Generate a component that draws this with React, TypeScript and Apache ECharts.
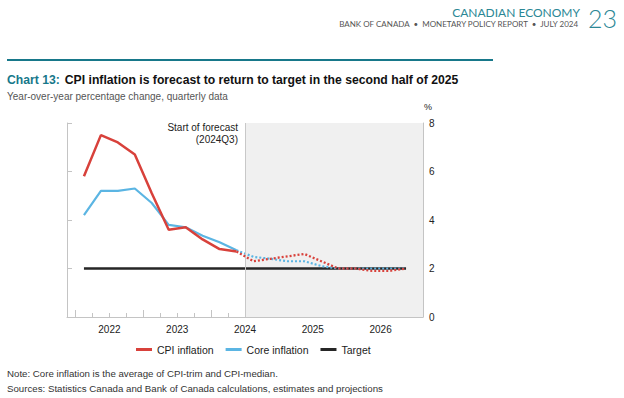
import React, { useEffect, useRef } from "react";
import * as echarts from "echarts";

// ---------- data ----------
const quarters = [
  "2022Q1", "2022Q2", "2022Q3", "2022Q4",
  "2023Q1", "2023Q2", "2023Q3", "2023Q4",
  "2024Q1", "2024Q2", "2024Q3", "2024Q4",
  "2025Q1", "2025Q2", "2025Q3", "2025Q4",
  "2026Q1", "2026Q2", "2026Q3", "2026Q4",
];
const actualQuarters = quarters.slice(0, 10); // 2022Q1 - 2024Q2
const forecastQuarters = quarters.slice(9); // 2024Q2 - 2026Q4 (joined at last actual)

const cpiActual = [5.8, 7.5, 7.2, 6.7, 5.1, 3.6, 3.7, 3.2, 2.8, 2.7];
const cpiForecast = [2.7, 2.3, 2.4, 2.5, 2.6, 2.3, 2.0, 2.0, 1.9, 1.9, 2.0];
const coreActual = [4.2, 5.2, 5.2, 5.3, 4.7, 3.8, 3.7, 3.35, 3.08, 2.75];
const coreForecast = [2.75, 2.48, 2.4, 2.3, 2.3, 2.1, 2.0, 2.0, 2.0, 2.0, 2.0];
const targetValues = [2, 2, 2, 2, 2, 2, 2, 2, 2, 2, 2, 2, 2, 2, 2, 2, 2, 2, 2, 2];

const yearLabels = [2022, 2023, 2024, 2025, 2026];
const yTicks = [0, 2, 4, 6, 8];
const forecastStart = "2024Q3";

// ---------- helpers ----------
const qStart = (q: string) => {
  const y = Number(q.slice(0, 4));
  const n = Number(q.slice(5));
  return y + (n - 1) / 4;
};
const qMid = (q: string) => qStart(q) + 0.125;
const pairs = (qs: string[], vs: number[]) => qs.map((q, i) => [qMid(q), vs[i]]);

const X_MIN = 2021.875;
const X_MAX = 2027.125;
const yearBoundaries = [...yearLabels, yearLabels[yearLabels.length - 1] + 1];
const quarterBoundaries: number[] = [];
yearLabels.forEach((y) => {
  [0.25, 0.5, 0.75].forEach((f) => quarterBoundaries.push(y + f));
});

const RED = "#d8413b";
const BLUE = "#5bb5e3";
const BLACK = "#262626";
const TEAL = "#17788a";
const AXIS = "#c4c4c4";
const FONT = "'Liberation Sans', Arial, sans-serif";

export default function App() {
  const ref = useRef<HTMLDivElement>(null);

  useEffect(() => {
    document.body.style.margin = "0";
    if (!ref.current) return;
    const chart = echarts.init(ref.current, undefined, { renderer: "svg" });

    const baseX = {
      type: "value",
      gridIndex: 0,
      position: "bottom",
      min: X_MIN,
      max: X_MAX,
      splitLine: { show: false },
    };

    const option: any = {
      animation: false,
      backgroundColor: "#ffffff",
      textStyle: { fontFamily: FONT },
      title: {
        left: 7,
        top: 71,
        padding: 0,
        text: "{a|Chart 13:} {b|CPI inflation is forecast to return to target in the second half of 2025}",
        subtext: "Year-over-year percentage change, quarterly data",
        itemGap: 2,
        textStyle: {
          rich: {
            a: { fontSize: 12.2, fontWeight: "bold", color: TEAL, fontFamily: FONT },
            b: { fontSize: 12.2, fontWeight: "bold", color: "#111111", fontFamily: FONT },
          },
        },
        subtextStyle: { fontSize: 10, color: "#555555", fontFamily: FONT },
      },
      grid: { left: 67, right: 201, top: 123, bottom: 81, containLabel: false },
      xAxis: [
        {
          ...baseX,
          axisLine: { show: true, lineStyle: { color: AXIS, width: 1 } },
          axisTick: {
            show: true,
            inside: true,
            length: 4,
            lineStyle: { color: AXIS },
            customValues: quarterBoundaries,
          },
          axisLabel: {
            show: true,
            customValues: yearLabels.map((y) => y + 0.5),
            formatter: (v: number) => String(Math.floor(v)),
            color: "#222222",
            fontSize: 10,
            margin: 7,
            fontFamily: FONT,
          },
        },
        {
          ...baseX,
          axisLine: { show: false },
          axisTick: {
            show: true,
            inside: true,
            length: 7,
            lineStyle: { color: AXIS },
            customValues: yearBoundaries,
          },
          axisLabel: { show: false },
        },
      ],
      yAxis: [
        {
          type: "value",
          position: "right",
          min: 0,
          max: 8,
          interval: 2,
          splitLine: { show: false },
          axisLine: { show: true, lineStyle: { color: AXIS } },
          axisTick: { show: true, inside: true, length: 5, lineStyle: { color: AXIS } },
          axisLabel: {
            color: "#222222",
            fontSize: 10,
            margin: 6,
            fontFamily: FONT,
            formatter: (v: number) => (yTicks.includes(v) ? String(v) : ""),
          },
        },
        {
          type: "value",
          position: "left",
          min: 0,
          max: 8,
          interval: 2,
          splitLine: { show: false },
          axisLine: { show: true, lineStyle: { color: AXIS } },
          axisTick: { show: true, inside: true, length: 5, lineStyle: { color: AXIS } },
          axisLabel: { show: false },
        },
      ],
      legend: {
        data: ["CPI inflation", "Core inflation", "Target"],
        left: 136,
        top: 344,
        padding: 0,
        icon: "rect",
        itemWidth: 16,
        itemHeight: 3,
        itemGap: 12,
        textStyle: { fontSize: 10.5, color: "#222222", fontFamily: FONT },
      },
      series: [
        {
          name: "forecast-area",
          type: "line",
          data: [],
          z: 1,
          silent: true,
          markArea: {
            silent: true,
            itemStyle: { color: "#f0f0f0" },
            data: [[{ xAxis: qStart(forecastStart) }, { xAxis: X_MAX }]],
          },
          markLine: {
            silent: true,
            symbol: "none",
            label: { show: false },
            lineStyle: { color: "#c8c8c8", width: 1, type: "solid" },
            data: [{ xAxis: qStart(forecastStart) }],
          },
        },
        {
          name: "Target",
          type: "line",
          data: pairs(quarters, targetValues),
          symbol: "none",
          z: 3,
          itemStyle: { color: BLACK },
          lineStyle: { color: BLACK, width: 2.5 },
        },
        {
          name: "Core inflation",
          type: "line",
          data: pairs(actualQuarters, coreActual),
          symbol: "none",
          z: 4,
          itemStyle: { color: BLUE },
          lineStyle: { color: BLUE, width: 2.2 },
        },
        {
          name: "Core inflation",
          type: "line",
          data: pairs(forecastQuarters, coreForecast),
          symbol: "none",
          z: 4,
          itemStyle: { color: BLUE },
          lineStyle: { color: BLUE, width: 2.2, type: [2, 2] },
        },
        {
          name: "CPI inflation",
          type: "line",
          data: pairs(actualQuarters, cpiActual),
          symbol: "none",
          z: 5,
          itemStyle: { color: RED },
          lineStyle: { color: RED, width: 2.5 },
        },
        {
          name: "CPI inflation",
          type: "line",
          data: pairs(forecastQuarters, cpiForecast),
          symbol: "none",
          z: 5,
          itemStyle: { color: RED },
          lineStyle: { color: RED, width: 2.3, type: [2, 2] },
        },
      ],
      graphic: [
        {
          type: "text",
          right: 44,
          top: 6,
          style: {
            text: "CANADIAN ECONOMY",
            fontSize: 12,
            fontFamily: "Lato, 'Open Sans', sans-serif",
            fill: "#2b8795",
          },
        },
        {
          type: "text",
          right: 44,
          top: 20,
          style: {
            text: "BANK OF CANADA  •  MONETARY POLICY REPORT  •  JULY 2024",
            fontSize: 8,
            fontFamily: "Lato, 'Open Sans', sans-serif",
            fill: "#555555",
          },
        },
        {
          type: "text",
          right: 7,
          top: 5,
          style: {
            text: "23",
            fontSize: 25,
            fontWeight: 300,
            fontFamily: "Lato, 'Open Sans', sans-serif",
            fill: "#2b8795",
          },
        },
        {
          type: "rect",
          shape: { x: 7, y: 59, width: 486, height: 2 },
          style: { fill: "#17788a" },
        },
        {
          type: "text",
          left: 424,
          top: 102,
          style: { text: "%", fontSize: 9, fill: "#222222", fontFamily: FONT },
        },
        {
          type: "text",
          x: 238,
          y: 121,
          style: {
            text: "Start of forecast\n(2024Q3)",
            fontSize: 10,
            lineHeight: 12,
            align: "right",
            verticalAlign: "top",
            fill: "#222222",
            fontFamily: FONT,
          },
        },
        {
          type: "text",
          left: 7,
          top: 368,
          style: {
            text: "Note: Core inflation is the average of CPI-trim and CPI-median.",
            fontSize: 9.7,
            fill: "#333333",
            fontFamily: FONT,
          },
        },
        {
          type: "text",
          left: 7,
          top: 383,
          style: {
            text: "Sources: Statistics Canada and Bank of Canada calculations, estimates and projections",
            fontSize: 9.7,
            fill: "#333333",
            fontFamily: FONT,
          },
        },
      ],
    };

    chart.setOption(option);
    return () => chart.dispose();
  }, []);

  return (
    <div
      ref={ref}
      style={{ width: 624, height: 398, position: "absolute", left: 0, top: 0 }}
    />
  );
}
